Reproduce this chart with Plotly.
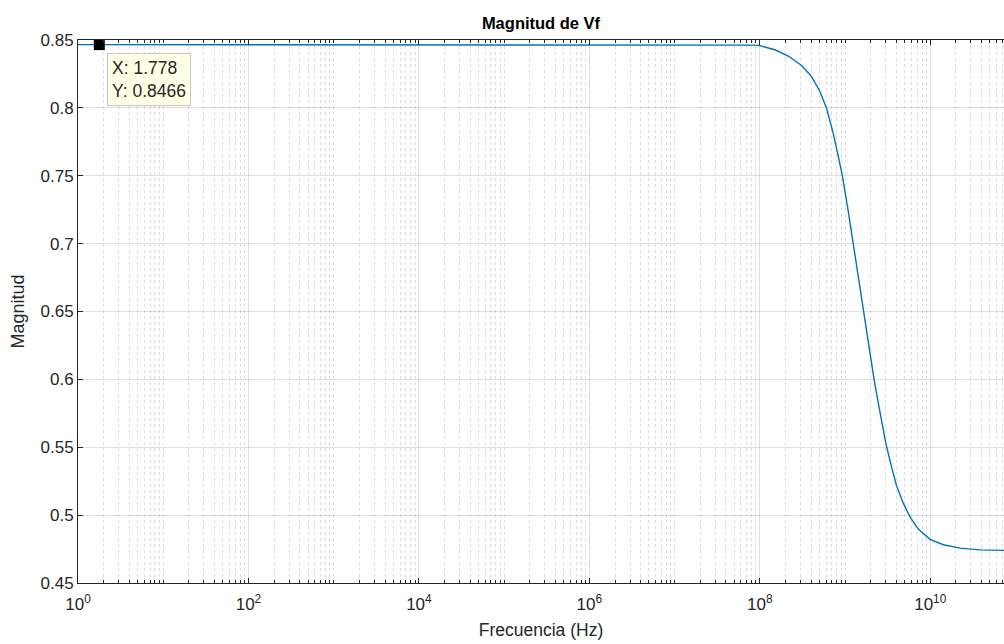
import math
import plotly.graph_objects as go

# ---- data ----
freq_hz = [1, 10, 1e2, 1e3, 1e4, 1e5, 1e6, 1e7, 5e7,
           8.75e7, 1e8, 1.503e8, 2.153e8, 3.09e8, 4.055e8, 5.07e8, 6.08e8,
           7.28e8, 8.32e8, 9.27e8, 1.091e9, 1.274e9, 1.633e9, 2.183e9,
           2.477e9, 3.02e9, 3.524e9, 4.036e9, 4.82e9, 5.78e9, 7.23e9,
           9.91e9, 1.422e10, 2.234e10, 3.83e10, 7.19e10, 1e11]
magnitude = [0.8466, 0.8466, 0.8466, 0.8466, 0.8466, 0.8466, 0.8466, 0.8466, 0.8465,
             0.8462, 0.8459, 0.8428, 0.8382, 0.8312, 0.8230, 0.8121, 0.7995,
             0.7810, 0.7645, 0.7505, 0.7238, 0.6962, 0.6510, 0.6005,
             0.5812, 0.5525, 0.5352, 0.5213, 0.5088, 0.4987, 0.4897,
             0.4822, 0.4782, 0.4757, 0.4744, 0.4740, 0.4739]

tip_x = 1.778
tip_y = 0.8466

x_tick_vals = [1, 1e2, 1e4, 1e6, 1e8, 1e10]
x_tick_text = ["10<sup>0</sup>", "10<sup>2</sup>", "10<sup>4</sup>",
               "10<sup>6</sup>", "10<sup>8</sup>", "10<sup>10</sup>"]
y_tick_vals = [0.45, 0.5, 0.55, 0.6, 0.65, 0.7, 0.75, 0.8, 0.85]
y_tick_text = ["0.45", "0.5", "0.55", "0.6", "0.65", "0.7", "0.75", "0.8", "0.85"]

title_text = "Magnitud de Vf"
x_title = "Frecuencia (Hz)"
y_title = "Magnitud"

# minor tick positions (axis styling)
minor_vals = [m * 10 ** k for k in range(0, 12) for m in range(1, 10)
              if not (m == 1 and k % 2 == 0)]

FONT = "Liberation Sans, Arial, Helvetica, sans-serif"
AX = "#262626"
MAJOR_GRID = "rgba(38,38,38,0.15)"
MINOR_GRID = "rgba(38,38,38,0.16)"

fig = go.Figure()
fig.add_trace(go.Scatter(
    x=freq_hz, y=magnitude, mode="lines",
    line=dict(color="#0072BD", width=1.4, shape="linear"),
    hoverinfo="skip", showlegend=False))
fig.add_trace(go.Scatter(
    x=[tip_x], y=[tip_y], mode="markers",
    marker=dict(symbol="square", size=11, color="black"),
    cliponaxis=False, hoverinfo="skip", showlegend=False))

fig.add_annotation(
    x=math.log10(tip_x), y=tip_y, xref="x", yref="y",
    text=f"X: {tip_x}<br>Y: {tip_y}",
    showarrow=False, xanchor="left", yanchor="top",
    xshift=8, yshift=-8, align="left",
    bgcolor="#FFFFE6", bordercolor="#C8C8C8", borderwidth=1, borderpad=4,
    font=dict(family=FONT, size=17.5, color=AX))

fig.update_layout(
    width=1004, height=644,
    margin=dict(l=78, r=0, t=40, b=61),
    paper_bgcolor="white", plot_bgcolor="white",
    font=dict(family=FONT, color=AX, size=17),
    title=dict(text=f"<b>{title_text}</b>", x=0.5, xref="paper",
               xanchor="center", y=1, yref="paper", yanchor="bottom",
               pad=dict(b=11), font=dict(size=16.5, color="black")),
    xaxis=dict(
        type="log", range=[0, 10.865], autorange=False,
        tickmode="array", tickvals=x_tick_vals, ticktext=x_tick_text,
        ticks="inside", ticklen=5, tickwidth=1, tickcolor=AX,
        ticklabelstandoff=6,
        showline=True, linecolor=AX, linewidth=1, mirror="allticks",
        showgrid=True, gridcolor=MAJOR_GRID, gridwidth=1,
        zeroline=False,
        minor=dict(tickmode="array", tickvals=minor_vals, ticks="inside",
                   ticklen=3, tickcolor=AX, showgrid=True,
                   gridcolor=MINOR_GRID, griddash="dot", gridwidth=1),
        tickfont=dict(size=17, color=AX),
        title=dict(text=x_title, font=dict(size=17.5, color=AX), standoff=10),
    ),
    yaxis=dict(
        range=[0.45, 0.85], autorange=False,
        tickmode="array", tickvals=y_tick_vals, ticktext=y_tick_text,
        ticks="inside", ticklen=5, tickwidth=1, tickcolor=AX,
        showline=True, linecolor=AX, linewidth=1, mirror=False,
        showgrid=True, gridcolor=MAJOR_GRID, gridwidth=1,
        zeroline=False,
        tickfont=dict(size=17, color=AX),
        title=dict(text=y_title, font=dict(size=18, color=AX), standoff=11),
    ),
)

fig.write_html("out.html")
